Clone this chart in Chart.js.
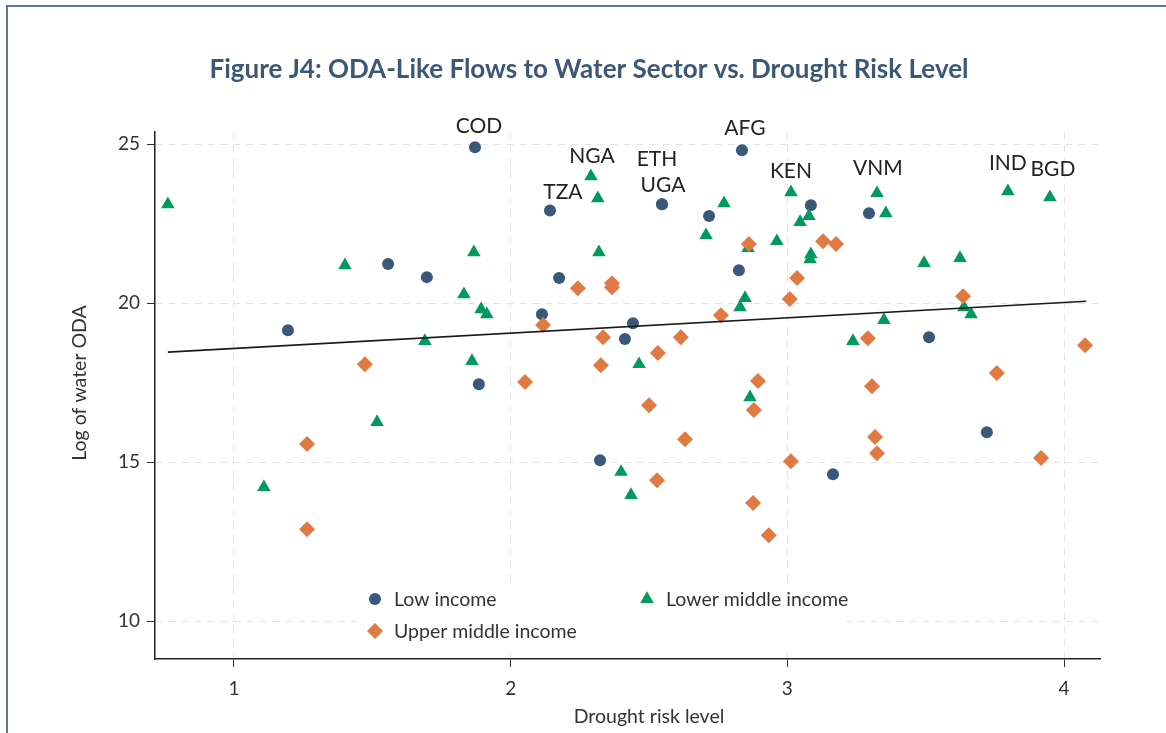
<!DOCTYPE html>
<html>
<head>
<meta charset="utf-8">
<title>ODA-Like Flows to Water Sector vs. Drought Risk Level</title>
<script src="https://cdn.jsdelivr.net/npm/chart.js@4.4.1/dist/chart.umd.min.js"></script>
<style>
    html, body { margin: 0; padding: 0; background: #fff; overflow: hidden; }
    .frame { position: absolute; left: 6px; top: 5px; width: 1190px; height: 780px; border: 2px solid #5f7893; }
    #wrap { position: absolute; left: 0; top: 0; width: 1166px; height: 733px; }
</style>
</head>
<body>
<div class="frame"></div>
<div id="wrap"><canvas id="droughtChart" width="1166" height="733"></canvas></div>
<script>
// drought risk level (x) and log of water ODA (y), by income group
const lowX = [1.195, 1.557, 1.697, 1.871, 1.885, 2.113, 2.175, 2.142, 2.323, 2.413, 2.442, 2.547, 2.547, 2.717, 2.825, 2.836, 3.085, 3.165, 3.295, 3.512, 3.721];
const lowY = [19.15, 21.23, 20.82, 24.91, 17.45, 19.65, 20.79, 22.92, 15.06, 18.87, 19.37, 23.11, 23.11, 22.74, 21.04, 24.81, 23.08, 14.62, 22.83, 18.93, 15.94];

const upperX = [1.264, 1.264, 1.473, 2.052, 2.117, 2.243, 2.366, 2.366, 2.334, 2.326, 2.500, 2.529, 2.532, 2.615, 2.630, 2.760, 2.861, 2.894, 2.879, 2.876, 2.933, 3.009, 3.035, 3.013, 3.129, 3.176, 3.291, 3.306, 3.317, 3.324, 3.635, 3.757, 3.917, 4.076];
const upperY = [15.57, 12.89, 18.08, 17.52, 19.31, 20.47, 20.63, 20.50, 18.93, 18.05, 16.79, 14.43, 18.43, 18.93, 15.72, 19.62, 21.86, 17.55, 16.64, 13.71, 12.70, 20.13, 20.79, 15.03, 21.95, 21.86, 18.90, 17.39, 15.79, 15.28, 20.22, 17.80, 15.13, 18.68];

const lowerX = [0.761, 1.108, 1.401, 1.517, 1.690, 1.831, 1.867, 1.860, 1.893, 1.914, 2.290, 2.315, 2.319, 2.399, 2.435, 2.464, 2.706, 2.771, 2.829, 2.847, 2.858, 2.865, 2.962, 3.013, 3.046, 3.078, 3.085, 3.082, 3.237, 3.324, 3.356, 3.349, 3.494, 3.624, 3.638, 3.664, 3.797, 3.949];
const lowerY = [23.11, 14.21, 21.19, 16.26, 18.81, 20.28, 21.60, 18.18, 19.81, 19.65, 23.99, 23.30, 21.60, 14.69, 13.96, 18.08, 22.14, 23.14, 19.87, 20.16, 21.73, 17.04, 21.95, 23.49, 22.55, 22.74, 21.54, 21.38, 18.81, 23.46, 22.83, 19.47, 21.26, 21.42, 19.87, 19.65, 23.52, 23.33];

// linear fit across all countries
const fitX = [0.761, 4.08];
const fitY = [18.46, 20.06];

const xTicks = [1, 2, 3, 4];
const yTicks = [10, 15, 20, 25];

// labelled countries: code, series key, index within that series
const labelCodes = ['COD', 'TZA', 'ETH', 'UGA', 'AFG', 'NGA', 'KEN', 'VNM', 'IND', 'BGD'];
const labelSeries = ['low', 'low', 'low', 'low', 'low', 'lower', 'lower', 'lower', 'lower', 'lower'];
const labelIndex = [3, 7, 11, 12, 15, 10, 23, 29, 36, 37];

const labelOffsets = {
    COD: [4, -21], TZA: [13, -18], ETH: [-5, -45], UGA: [1, -19], AFG: [3, -22],
    NGA: [1, -20], KEN: [0, -21], VNM: [1, -25], IND: [0, -28], BGD: [3, -28]
};

const toPoints = (xs, ys) => xs.map((x, i) => ({ x: x, y: ys[i] }));

const COLORS = { low: '#3a5879', upper: '#e07a43', lower: '#009a5f' };
const FONT = 'Lato, "Open Sans", sans-serif';
const TEXT = '#333';

function drawMarker(ctx, style, x, y, r, color) {
    ctx.save();
    ctx.fillStyle = color;
    ctx.beginPath();
    if (style === 'circle') {
        ctx.arc(x, y, r, 0, Math.PI * 2);
    } else if (style === 'rectRot') {
        ctx.moveTo(x - r, y);
        ctx.lineTo(x, y - r);
        ctx.lineTo(x + r, y);
        ctx.lineTo(x, y + r);
        ctx.closePath();
    } else {
        ctx.moveTo(x, y - r);
        ctx.lineTo(x + r * 0.866, y + r / 2);
        ctx.lineTo(x - r * 0.866, y + r / 2);
        ctx.closePath();
    }
    ctx.fill();
    ctx.restore();
}

// legend sits inside the plot, on a white box that hides the grid behind it
const legendPlugin = {
    id: 'incomeLegend',
    beforeDatasetsDraw(chart) {
        const ctx = chart.ctx;
        ctx.save();
        ctx.fillStyle = '#ffffff';
        ctx.fillRect(360, 582, 487, 66);
        ctx.restore();
    },
    afterDraw(chart) {
        const ctx = chart.ctx;
        const items = [
            { key: 'low', x: 375, y: 599 },
            { key: 'lower', x: 647, y: 599 },
            { key: 'upper', x: 375, y: 631 }
        ];
        ctx.save();
        ctx.font = '19.5px ' + FONT;
        ctx.fillStyle = TEXT;
        ctx.textBaseline = 'middle';
        items.forEach(it => {
            const ds = chart.data.datasets.find(d => d.key === it.key);
            drawMarker(ctx, ds.pointStyle, it.x, it.y, ds.pointRadius, ds.backgroundColor);
            ctx.fillText(ds.label, it.x + 19, it.y + 1);
        });
        ctx.restore();
    }
};

// axis titles, placed a little off the plot centre
const axisTitlePlugin = {
    id: 'axisTitles',
    afterDraw(chart) {
        const ctx = chart.ctx;
        ctx.save();
        ctx.font = '19.5px ' + FONT;
        ctx.fillStyle = TEXT;
        ctx.textAlign = 'center';
        ctx.textBaseline = 'middle';
        ctx.fillText('Drought risk level', 649, 717);
        ctx.translate(80, 383);
        ctx.rotate(-Math.PI / 2);
        ctx.fillText('Log of water ODA', 0, 0);
        ctx.restore();
    }
};

const codeLabelPlugin = {
    id: 'codeLabels',
    afterDatasetsDraw(chart) {
        const ctx = chart.ctx;
        const xs = chart.scales.x, ys = chart.scales.y;
        const series = { low: [lowX, lowY], lower: [lowerX, lowerY], upper: [upperX, upperY] };
        ctx.save();
        ctx.font = '21px ' + FONT;
        ctx.fillStyle = '#222';
        ctx.textAlign = 'center';
        ctx.textBaseline = 'middle';
        labelCodes.forEach((code, i) => {
            const s = series[labelSeries[i]];
            const px = xs.getPixelForValue(s[0][labelIndex[i]]);
            const py = ys.getPixelForValue(s[1][labelIndex[i]]);
            const off = labelOffsets[code];
            ctx.fillText(code, px + off[0], py + off[1]);
        });
        ctx.restore();
    }
};

const gridOpts = { color: '#e3e3e3', tickColor: '#333', tickLength: 8, lineWidth: 1 };
const borderOpts = { color: '#222', width: 1.5, dash: [7, 6] };

new Chart(document.getElementById('droughtChart').getContext('2d'), {
    type: 'scatter',
    data: {
        datasets: [
            { type: 'line', key: 'fit', label: 'Fitted values', data: toPoints(fitX, fitY),
              borderColor: '#1a1a1a', borderWidth: 1.6, pointRadius: 0, fill: false, order: 0 },
            { key: 'upper', label: 'Upper middle income', data: toPoints(upperX, upperY),
              pointStyle: 'rectRot', pointRadius: 8, backgroundColor: COLORS.upper, borderWidth: 0, order: 1 },
            { key: 'lower', label: 'Lower middle income', data: toPoints(lowerX, lowerY),
              pointStyle: 'triangle', pointRadius: 7.8, backgroundColor: COLORS.lower, borderWidth: 0, order: 2 },
            { key: 'low', label: 'Low income', data: toPoints(lowX, lowY),
              pointStyle: 'circle', pointRadius: 6, backgroundColor: COLORS.low, borderWidth: 0, order: 3 }
        ]
    },
    options: {
        responsive: false,
        animation: false,
        // left padding keeps the title centred on the page rather than on the plot
        layout: { padding: { top: 0, left: 78, right: 66, bottom: 0 } },
        plugins: {
            legend: { display: false },
            tooltip: { enabled: false },
            title: {
                display: true,
                text: 'Figure J4: ODA-Like Flows to Water Sector vs. Drought Risk Level',
                color: '#3d5877',
                font: { family: FONT, size: 26, weight: 'bold' },
                padding: { top: 54, bottom: 47 }
            }
        },
        scales: {
            x: {
                type: 'linear',
                min: 0.7145,
                max: 4.13,
                afterBuildTicks: s => { s.ticks = xTicks.map(v => ({ value: v })); },
                afterFit: s => { s.height = 74; },
                grid: gridOpts,
                border: borderOpts,
                ticks: { color: TEXT, padding: 10, font: { family: FONT, size: 19 } }
            },
            y: {
                type: 'linear',
                min: 8.805,
                max: 25.38,
                afterBuildTicks: s => { s.ticks = yTicks.map(v => ({ value: v })); },
                afterFit: s => { s.width = 77; },
                grid: gridOpts,
                border: borderOpts,
                ticks: { color: TEXT, padding: 7, font: { family: FONT, size: 19 } }
            }
        }
    },
    plugins: [legendPlugin, codeLabelPlugin, axisTitlePlugin]
});
</script>
</body>
</html>
